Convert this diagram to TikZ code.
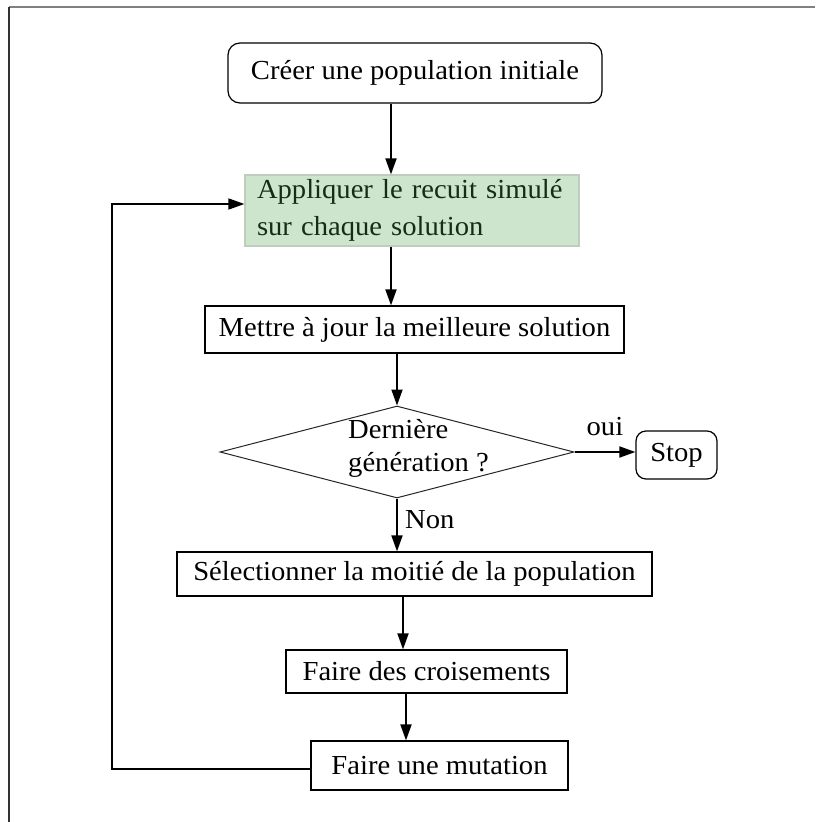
\documentclass[tikz,border=0pt]{standalone}
\usepackage{fontspec}
\setmainfont{Liberation Serif}[FakeStretch=1.04]
\usetikzlibrary{shapes.geometric, arrows.meta}
\definecolor{recuitfill}{RGB}{205,228,205}
\definecolor{recuitedge}{RGB}{190,205,190}
\definecolor{recuittext}{RGB}{20,45,20}
\tikzset{
    stepbox/.style={draw=black, line width=1.2pt, inner sep=0pt, font=\fontsize{27.5}{32}\selectfont},
    roundbox/.style={stepbox, rounded corners=12pt},
    greenbox/.style={stepbox, fill=recuitfill, draw=recuitedge, text=recuittext, align=left,
        text width=310pt, inner xsep=12pt, font=\fontsize{27.5}{37}\selectfont},
    decision/.style={diamond, draw=black!85, line width=1pt, inner sep=0pt},
    flow/.style={line width=1.8pt, -{Triangle[length=16pt, width=11pt]}},
    common settings/.style={x=1pt, y=-1pt, font=\fontsize{27.5}{32}\selectfont}
}
\begin{document}
\begin{tikzpicture}[common settings]
    \useasboundingbox (0,0) rectangle (815,822);

    % cadre de la page
    \draw[gray, line width=2pt] (9,7) -- (815,7);
    \draw[black!80, line width=1.5pt] (9,7) -- (9,822);

    % etapes
    \node[roundbox, minimum width=374pt, minimum height=60pt] (cree) at (415,73) {Créer une population initiale};
    \node[greenbox, minimum width=334pt, minimum height=71pt] (recuit) at (412,210.5) {Appliquer le recuit simulé\\sur chaque solution};
    \node[stepbox, minimum width=419pt, minimum height=47pt] (maj) at (414.5,329.5) {Mettre à jour la meilleure solution};
    \node[decision, minimum width=354pt, minimum height=92pt] (test) at (397,452) {};
    \node[anchor=west, inner sep=0pt, align=left, font=\fontsize{27.5}{33}\selectfont] (testtext) at (348,448.5) {Dernière\\génération ?};
    \node[roundbox, rounded corners=10pt, minimum width=81pt, minimum height=48pt] (stop) at (676.5,455) {Stop};
    \node[stepbox, minimum width=475pt, minimum height=44pt] (sel) at (414.5,574) {Sélectionner la moitié de la population};
    \node[stepbox, minimum width=281pt, minimum height=43pt] (crois) at (426.5,671.5) {Faire des croisements};
    \node[stepbox, minimum width=257pt, minimum height=49pt] (mut) at (439.5,765.5) {Faire une mutation};

    % fleches
    \coordinate (spine) at (391,0);
    \coordinate (spinelow) at (403,0);
    \coordinate (spinemut) at (406,0);
    \draw[flow] (cree.south -| spine) -- (recuit.north -| spine);
    \draw[flow] (recuit.south -| spine) -- (maj.north -| spine);
    \draw[flow] (maj.south -| test.north) -- (test.north);
    \draw[flow] (test.east) -- (test.east -| stop.west) node[midway, above=12pt] {oui};
    \draw[flow] (test.south) -- (test.south |- sel.north) node[pos=0.4, right=4pt] {Non};
    \draw[flow] (sel.south -| spinelow) -- (crois.north -| spinelow);
    \draw[flow] (crois.south -| spinemut) -- (mut.north -| spinemut);

    % retour vers le recuit
    \coordinate (loop) at (112,0);
    \coordinate (mutout) at ([yshift=-3.5pt]mut.west);
    \coordinate (recuitin) at ([yshift=6.5pt]recuit.west);
    \draw[flow, line width=1.5pt] (mutout) -- (mutout -| loop) |- (recuitin);

\end{tikzpicture}
\end{document}
